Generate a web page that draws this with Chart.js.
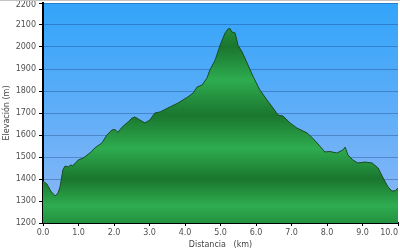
<!DOCTYPE html>
<html>
<head>
<meta charset="utf-8">
<script src="https://cdn.jsdelivr.net/npm/chart.js@4/dist/chart.umd.min.js"></script>
<style>
  html, body { margin: 0; padding: 0; background: #ffffff; }
  #wrap { position: relative; width: 400px; height: 250px; }
  #topline { position: absolute; left: 0; top: 0; width: 400px; height: 1px; background: #c4c4c4; }
  canvas { display: block; }
</style>
</head>
<body>
<div id="wrap">
  <canvas id="c" width="400" height="250"></canvas>
  <div id="topline"></div>
</div>
<script>
// Distance along the route (km)
const distanceKm = [
  0.00, 0.11, 0.22, 0.34, 0.42, 0.48, 0.56, 0.62, 0.72, 0.78, 0.82, 0.90, 0.99,
  1.13, 1.32, 1.46, 1.66, 1.80, 1.94, 2.03, 2.11, 2.23, 2.40, 2.51, 2.59, 2.73,
  2.87, 3.01, 3.15, 3.30, 3.52, 3.80, 4.08, 4.23, 4.34, 4.48, 4.62, 4.70, 4.85,
  4.99, 5.13, 5.21, 5.27, 5.32, 5.41, 5.46, 5.49, 5.61, 5.75, 5.92, 6.06, 6.11,
  6.31, 6.48, 6.62, 6.76, 6.96, 7.15, 7.44, 7.60, 7.72, 7.94, 8.08, 8.28, 8.45,
  8.51, 8.59, 8.73, 8.87, 9.07, 9.27, 9.44, 9.58, 9.72, 9.83, 9.92, 10.00
];
// Elevation (m)
const elevationM = [
  1390, 1377, 1345, 1323, 1335, 1364, 1441, 1459, 1455, 1465, 1459, 1470, 1486,
  1495, 1518, 1541, 1564, 1600, 1623, 1625, 1612, 1636, 1660, 1677, 1682, 1668,
  1655, 1668, 1700, 1705, 1723, 1745, 1773, 1791, 1818, 1827, 1859, 1895, 1941,
  2009, 2064, 2082, 2084, 2068, 2064, 2032, 2009, 1977, 1927, 1865, 1820, 1805,
  1759, 1723, 1691, 1686, 1655, 1632, 1609, 1585, 1564, 1523, 1525, 1518, 1532,
  1545, 1509, 1486, 1473, 1477, 1473, 1450, 1405, 1364, 1345, 1347, 1359
];
const xMin = 0, xMax = 10, xStep = 1;
const yMin = 1200, yMax = 2200, yStep = 100;
const xTitle = 'Distancia   (km)';
const yTitle = 'Elevación (m)';

const points = distanceKm.map((d, i) => ({ x: d, y: elevationM[i] }));

const LIGHT = 'rgb(46,172,80)';
const DARK = 'rgb(26,118,46)';
const MID = 'rgb(36,146,63)';

function fillGradient(context) {
  const chart = context.chart;
  const area = chart.chartArea;
  if (!area) return MID;
  const ys = chart.scales.y;
  const top = ys.getPixelForValue(yMax), bot = ys.getPixelForValue(yMin);
  const g = chart.ctx.createLinearGradient(0, top, 0, bot);
  const f = e => (yMax - e) / (yMax - yMin);
  g.addColorStop(f(2200), LIGHT);
  g.addColorStop(f(2100), MID);
  g.addColorStop(f(2000), DARK);
  g.addColorStop(f(1850), LIGHT);
  g.addColorStop(f(1690), DARK);
  g.addColorStop(f(1540), LIGHT);
  g.addColorStop(f(1400), DARK);
  g.addColorStop(f(1280), LIGHT);
  g.addColorStop(f(1200), MID);
  return g;
}

const skyPlugin = {
  id: 'sky',
  beforeDraw(chart) {
    const a = chart.chartArea;
    const ctx = chart.ctx;
    const g = ctx.createLinearGradient(0, a.top, 0, a.bottom);
    g.addColorStop(0, 'rgb(50,164,250)');
    g.addColorStop(1, 'rgb(142,184,246)');
    ctx.save();
    ctx.fillStyle = g;
    ctx.fillRect(a.left, a.top, a.right - a.left, a.bottom - a.top);
    ctx.restore();
    try {
      const items = chart.scales.x.getLabelItems(chart.chartArea);
      const last = items[items.length - 1];
      if (last && last.options) last.options.textAlign = 'right';
    } catch (e) {}
    try {
      const yItems = chart.scales.y.getLabelItems(chart.chartArea);
      yItems.forEach(it => {
        if (String(it.label) === String(yMax) && it.options && it.options.translation) {
          it.options.translation[1] += 2;
        }
      });
    } catch (e) {}
  }
};

new Chart(document.getElementById('c'), {
  type: 'line',
  data: {
    datasets: [{
      data: points,
      borderColor: '#1c4a24',
      borderWidth: 1,
      pointRadius: 0,
      tension: 0,
      fill: 'start',
      backgroundColor: fillGradient
    }]
  },
  options: {
    responsive: false,
    animation: false,
    layout: { autoPadding: false, padding: { top: 3, right: 2, left: 0, bottom: 0 } },
    plugins: { legend: { display: false }, tooltip: { enabled: false } },
    scales: {
      x: {
        type: 'linear',
        min: xMin, max: xMax,
        z: 1,
        ticks: {
          stepSize: xStep,
          color: '#505050',
          font: { family: 'DejaVu Sans', size: 8 },
          padding: 2,
          maxRotation: 0,
          callback: v => Number(v).toFixed(1)
        },
        grid: { drawOnChartArea: false, drawTicks: true, tickLength: 3, color: '#000' },
        border: { display: true, color: '#000', width: 2 },
        title: {
          display: true, text: xTitle, color: '#444',
          font: { family: 'DejaVu Sans', size: 8 },
          padding: { top: 0, bottom: 0 }
        },
        afterFit(s) { s.height = 27; s.paddingLeft = 0; s.paddingRight = 0; }
      },
      y: {
        type: 'linear',
        min: yMin, max: yMax,
        z: 1,
        ticks: {
          stepSize: yStep,
          color: '#505050',
          font: { family: 'DejaVu Sans', size: 8 },
          padding: 3,
          callback: v => String(v)
        },
        grid: {
          color: 'rgba(15,45,110,0.32)',
          lineWidth: 1,
          drawTicks: true,
          tickLength: 4,
          tickColor: '#000'
        },
        border: { display: true, color: '#000', width: 2 },
        title: {
          display: true, text: yTitle, color: '#444',
          font: { family: 'DejaVu Sans', size: 8 },
          padding: { top: 2, bottom: 0 }
        },
        afterFit(s) { s.width = 43; s.paddingTop = 0; s.paddingBottom = 0; }
      }
    }
  },
  plugins: [skyPlugin]
});
</script>
</body>
</html>
